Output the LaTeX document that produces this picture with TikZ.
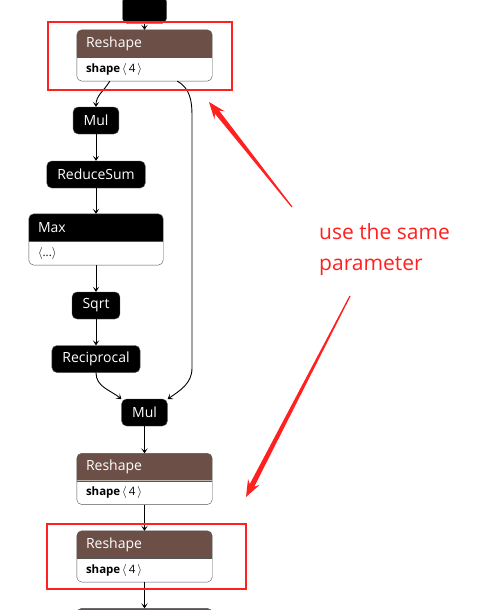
\documentclass[tikz,border=0pt]{standalone}
\usepackage{fontspec}
\setmainfont{Open Sans}
\usetikzlibrary{calc,arrows.meta,positioning,backgrounds}
\definecolor{shapebrown}{HTML}{6C4F47}
\definecolor{markred}{HTML}{FF2020}
\definecolor{rimgray}{HTML}{555555}
\tikzset{
  ed/.style={-{Stealth[length=5pt,width=6.5pt,inset=2.5pt]},line width=0.9pt},
  op/.style={draw=rimgray,fill=black,text=white,rounded corners=5pt,minimum height=27pt,
    inner xsep=10.5pt,inner ysep=0pt,font=\fontsize{14}{16}\selectfont},
  hdr/.style={text=white,text width=117pt,inner xsep=9pt,inner ysep=0pt,minimum height=27pt,
    align=left,font=\fontsize{14}{16}\selectfont},
  attr/.style={text width=117pt,inner xsep=9pt,inner ysep=0pt,minimum height=23.5pt,
    align=left,font=\fontsize{11.5}{14}\selectfont},
  redframe/.style={draw=markred,line width=2.5pt},
  note/.style={text=markred,align=left,inner sep=0pt,font=\fontsize{21}{31}\selectfont}
}
% header + attribute box with rounded outline
\newcommand\panel[2]{%
  \begin{scope}[on background layer]
    \fill[#2] (#1.south west) -- ([yshift=-5pt]#1.north west) arc[start angle=180,end angle=90,radius=5pt]
      -- ([xshift=-5pt]#1.north east) arc[start angle=90,end angle=0,radius=5pt] -- (#1.south east) -- cycle;
    \fill[white] (#1-b.north west) -- ([yshift=5pt]#1-b.south west) arc[start angle=180,end angle=270,radius=5pt]
      -- ([xshift=-5pt]#1-b.south east) arc[start angle=270,end angle=360,radius=5pt] -- (#1-b.north east) -- cycle;
  \end{scope}
  \draw[rimgray,rounded corners=5pt] (#1.north west) rectangle (#1-b.south east);
  \draw[rimgray] (#1.south west) -- (#1.south east);
}
% hand drawn red pointer, #1 tail, #2 tip
\newcommand\redarrow[2]{%
  \fill[markred] (#2) -- ($(#2)!17pt!(#1)!6.5pt!90:(#1)$) -- ($(#2)!13pt!(#1)!2.6pt!90:(#1)$)
    -- ($(#1)!0.6pt!-90:(#2)$) -- ($(#1)!0.6pt!90:(#2)$)
    -- ($(#2)!13pt!(#1)!2.6pt!-90:(#1)$) -- ($(#2)!17pt!(#1)!6.5pt!-90:(#1)$) -- cycle;
}

\begin{document}
\begin{tikzpicture}[x=1pt,y=1pt]
\useasboundingbox (0,0) rectangle (485,-610);

% graph
\node[op,minimum width=44pt] (top) at (144.5,-10) {};
\node[hdr] (r1) at (144.5,-43.5) {Reshape};
\node[attr,below=0pt of r1] (r1-b) {\textbf{shape}\,$\langle$\,4\,$\rangle$};
\panel{r1}{shapebrown}
\node[op] (mul1) at (96,-120.5) {Mul};
\node[op] (rsum) at (96,-174.5) {ReduceSum};
\node[hdr,text width=116pt] (max) at (96,-227.5) {Max};
\node[attr,text width=116pt,below=0pt of max] (max-b) {$\langle$...$\rangle$};
\panel{max}{black}
\node[op] (sqrt) at (96,-305.5) {Sqrt};
\node[op] (recip) at (96,-359) {Reciprocal};
\node[op] (mul2) at (144.5,-412.5) {Mul};
\node[hdr] (r2) at (144.5,-467) {Reshape};
\node[attr,below=0pt of r2] (r2-b) {\textbf{shape}\,$\langle$\,4\,$\rangle$};
\panel{r2}{shapebrown}
\node[hdr] (r3) at (144.5,-544.5) {Reshape};
\node[attr,below=0pt of r3] (r3-b) {\textbf{shape}\,$\langle$\,4\,$\rangle$};
\panel{r3}{shapebrown}
\node[hdr] (bot) at (144.5,-622) {};
\node[attr,below=0pt of bot] (bot-b) {};
\panel{bot}{shapebrown}

\draw[ed] (top) -- (r1);
\draw[ed] (r1-b.199) to[out=-120,in=90] (mul1.north);
\draw[ed] (r1-b.-20) to[out=-30,in=90] (192,-115) -- (192,-368) to[out=-90,in=35] (mul2.30);
\draw[ed] (mul1) -- (rsum);
\draw[ed] (rsum) -- (max);
\draw[ed] (max-b) -- (sqrt);
\draw[ed] (sqrt) -- (recip);
\draw[ed] (recip.south) to[out=-90,in=140] (mul2.150);
\draw[ed] (mul2) -- (r2);
\draw[ed] (r2-b) -- (r3);
\draw[ed] (r3-b) -- (bot);

% annotation
\draw[redframe] (48,-22) rectangle (232,-90);
\draw[redframe] (47,-524) rectangle (246,-589);
\node[note,anchor=base west] (note) at (319,-270) {use the same\\parameter};
\coordinate (t1) at (292,-207);
\coordinate (p1) at (209,-102);
\coordinate (t2) at (350,-296);
\coordinate (p2) at (246,-497);
\redarrow{t1}{p1}
\redarrow{t2}{p2}
\end{tikzpicture}
\end{document}
